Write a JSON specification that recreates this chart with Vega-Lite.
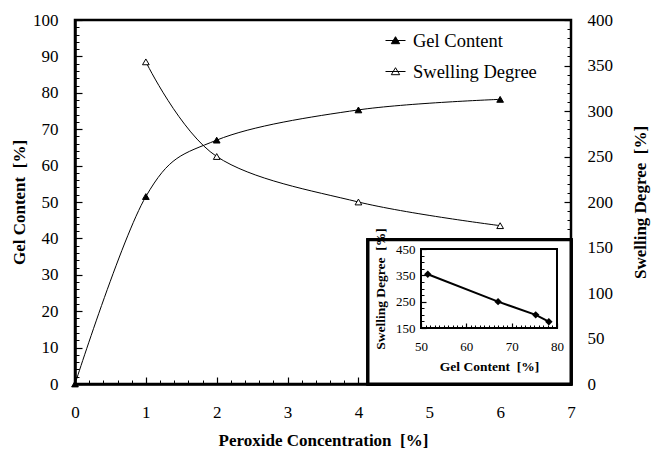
{
  "$schema": "https://vega.github.io/schema/vega-lite/v6.json",
  "width": 496,
  "height": 364,
  "autosize": {"type": "none"},
  "padding": {"left": 75, "top": 20, "right": 81, "bottom": 69},
  "background": "white",
  "config": {
    "font": "Liberation Serif",
    "view": {"stroke": "black", "strokeWidth": 2.5},
    "axis": {
      "grid": false,
      "labelFont": "Liberation Serif",
      "labelFontWeight": "normal",
      "titleFont": "Liberation Serif",
      "labelColor": "black",
      "titleColor": "black",
      "domainColor": "black",
      "tickColor": "black",
      "labelFontSize": 17,
      "titleFontSize": 17,
      "titleFontWeight": "bold",
      "labelFlush": false,
      "labelOverlap": false
    }
  },
  "datasets": {
    "peroxide": [
      {"conc": 0, "gel": 0, "swelling": null},
      {"conc": 1, "gel": 51.5, "swelling": 354},
      {"conc": 2, "gel": 67, "swelling": 250},
      {"conc": 4, "gel": 75.3, "swelling": 200},
      {"conc": 6, "gel": 78.2, "swelling": 174}
    ]
  },
  "data": {"name": "peroxide"},
  "resolve": {"scale": {"x": "independent", "y": "independent", "fill": "shared"}},
  "layer": [
    {
      "mark": {"type": "line", "interpolate": "cardinal", "color": "black", "strokeWidth": 1},
      "encoding": {
        "x": {
          "field": "conc", "type": "quantitative",
          "scale": {"domain": [0, 7], "nice": false, "zero": false},
          "axis": {
            "orient": "bottom", "values": [0, 1, 2, 3, 4, 5, 6, 7], "format": "d",
            "tickSize": -7, "tickWidth": 1.2, "domainWidth": 2.5,
            "labelPadding": 27, "title": "Peroxide Concentration\u00a0 [%]", "titlePadding": 12
          }
        },
        "y": {
          "field": "gel", "type": "quantitative",
          "scale": {"domain": [0, 100], "nice": false},
          "axis": {
            "orient": "left", "values": [0, 10, 20, 30, 40, 50, 60, 70, 80, 90, 100], "format": "d",
            "tickSize": -7, "tickWidth": 1.2, "domainWidth": 2.5,
            "labelPadding": 24, "title": "Gel Content\u00a0 [%]", "titlePadding": 4
          }
        }
      }
    },
    {
      "mark": {"type": "line", "interpolate": "cardinal", "color": "black", "strokeWidth": 1},
      "encoding": {
        "x": {
          "field": "conc", "type": "quantitative",
          "scale": {"domain": [0, 7], "nice": false, "zero": false},
          "axis": {
            "orient": "bottom",
            "values": [0.2, 0.4, 0.6, 0.8, 1.2, 1.4, 1.6, 1.8, 2.2, 2.4, 2.6, 2.8, 3.2, 3.4, 3.6, 3.8, 4.2, 4.4, 4.6, 4.8, 5.2, 5.4, 5.6, 5.8, 6.2, 6.4, 6.6, 6.8],
            "labels": false, "domain": false, "tickSize": -4, "tickWidth": 1, "title": null
          }
        },
        "y": {
          "field": "swelling", "type": "quantitative",
          "scale": {"domain": [0, 400], "nice": false},
          "axis": {
            "orient": "right", "values": [0, 50, 100, 150, 200, 250, 300, 350, 400], "format": "d",
            "domain": false, "tickSize": -7, "tickWidth": 1.2,
            "labelPadding": 23, "title": "Swelling Degree\u00a0 [%]", "titleAngle": 270, "titlePadding": 37
          }
        }
      }
    },
    {
      "mark": {"type": "point", "shape": "triangle-up", "filled": true, "size": 45, "stroke": "black", "strokeWidth": 1, "opacity": 1},
      "encoding": {
        "x": {
          "field": "conc", "type": "quantitative",
          "scale": {"domain": [0, 7], "nice": false, "zero": false}, "axis": null
        },
        "y": {
          "field": "gel", "type": "quantitative",
          "scale": {"domain": [0, 100], "nice": false},
          "axis": {
            "orient": "left",
            "values": [2, 4, 6, 8, 12, 14, 16, 18, 22, 24, 26, 28, 32, 34, 36, 38, 42, 44, 46, 48, 52, 54, 56, 58, 62, 64, 66, 68, 72, 74, 76, 78, 82, 84, 86, 88, 92, 94, 96, 98],
            "labels": false, "domain": false, "tickSize": -4, "tickWidth": 1, "title": null
          }
        },
        "fill": {
          "datum": "Gel Content", "type": "nominal",
          "scale": {"domain": ["Gel Content", "Swelling Degree"], "range": ["black", "white"]},
          "legend": {
            "title": null, "orient": "none", "legendX": 310, "legendY": 10,
            "padding": 0, "symbolType": "M-1,0H1M0,-0.38L0.42,0.32H-0.42Z",
            "symbolSize": 400, "symbolStrokeColor": "black", "symbolStrokeWidth": 1,
            "labelFont": "Liberation Serif", "labelFontSize": 18.5, "labelColor": "black",
            "labelOffset": 7, "rowPadding": 11, "labelLimit": 300
          }
        }
      }
    },
    {
      "mark": {"type": "point", "shape": "triangle-up", "filled": true, "size": 45, "stroke": "black", "strokeWidth": 1, "opacity": 1},
      "encoding": {
        "x": {
          "field": "conc", "type": "quantitative",
          "scale": {"domain": [0, 7], "nice": false, "zero": false}, "axis": null
        },
        "y": {
          "field": "swelling", "type": "quantitative",
          "scale": {"domain": [0, 400], "nice": false},
          "axis": {
            "orient": "right",
            "values": [10, 20, 30, 40, 60, 70, 80, 90, 110, 120, 130, 140, 160, 170, 180, 190, 210, 220, 230, 240, 260, 270, 280, 290, 310, 320, 330, 340, 360, 370, 380, 390],
            "labels": false, "domain": false, "tickSize": -4, "tickWidth": 1, "title": null
          }
        },
        "fill": {"datum": "Swelling Degree", "type": "nominal"}
      }
    },
    {
      "mark": {"type": "rect", "fill": "white", "stroke": "black", "strokeWidth": 3},
      "encoding": {
        "x": {"datum": 4.135, "type": "quantitative", "scale": {"domain": [0, 7], "nice": false, "zero": false}, "axis": null},
        "x2": {"datum": 7},
        "y": {"datum": 0, "type": "quantitative", "scale": {"domain": [0, 100], "nice": false}, "axis": null},
        "y2": {"datum": 39.6}
      }
    },
    {
      "mark": {"type": "rect", "fill": null, "fillOpacity": 0, "stroke": "black", "strokeWidth": 2},
      "encoding": {
        "x": {
          "datum": 50, "type": "quantitative",
          "scale": {"domain": [50, 80], "range": [346, 482], "nice": false, "zero": false},
          "axis": {
            "orient": "bottom", "offset": -56, "zindex": 1,
            "values": [51, 52, 53, 54, 55, 56, 57, 58, 59, 61, 62, 63, 64, 65, 66, 67, 68, 69, 71, 72, 73, 74, 75, 76, 77, 78, 79],
            "labels": false, "domain": false, "tickSize": -3, "tickWidth": 1, "title": null
          }
        },
        "x2": {"datum": 80},
        "y": {
          "datum": 150, "type": "quantitative",
          "scale": {"domain": [150, 450], "range": [308, 229], "nice": false, "zero": false},
          "axis": {
            "orient": "left", "offset": -346, "zindex": 1,
            "values": [175, 200, 225, 275, 300, 325, 375, 400, 425],
            "labels": false, "domain": false, "tickSize": -3, "tickWidth": 1, "title": null
          }
        },
        "y2": {"datum": 450}
      }
    },
    {
      "mark": {"type": "line", "color": "black", "strokeWidth": 2,
               "point": {"shape": "diamond", "filled": true, "size": 55, "color": "black"}},
      "encoding": {
        "x": {
          "field": "gel", "type": "quantitative",
          "scale": {"domain": [50, 80], "range": [346, 482], "nice": false, "zero": false},
          "axis": {
            "orient": "bottom", "offset": -56, "zindex": 1,
            "values": [50, 60, 70, 80], "format": "d", "domain": false,
            "tickSize": -5, "tickWidth": 1.2, "labelFontSize": 13, "labelPadding": 17,
            "title": "Gel Content\u00a0 [%]", "titleFontSize": 13.5, "titlePadding": 6
          }
        },
        "y": {
          "field": "swelling", "type": "quantitative",
          "scale": {"domain": [150, 450], "range": [308, 229], "nice": false, "zero": false},
          "axis": {
            "orient": "left", "offset": -346, "zindex": 1,
            "values": [150, 250, 350, 450], "format": "d", "domain": false,
            "tickSize": -5, "tickWidth": 1.2, "labelFontSize": 13, "labelPadding": 11,
            "title": "Swelling Degree\u00a0 [%]", "titleFontSize": 13.5, "titlePadding": 8
          }
        }
      }
    }
  ]
}
